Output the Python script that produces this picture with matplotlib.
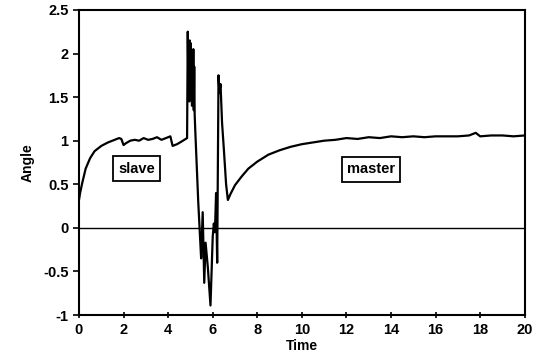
import numpy as np
import matplotlib
matplotlib.use("Agg")
import matplotlib.pyplot as plt

# angle trace
time = [0.0, 0.05, 0.15, 0.3, 0.5, 0.7, 1.0, 1.3, 1.6, 1.8, 1.9, 2.0, 2.1, 2.3, 2.5,
        2.7, 2.9, 3.1, 3.3, 3.5, 3.7, 3.9, 4.1, 4.2, 4.4, 4.6, 4.85,
        4.88, 4.91, 4.93, 4.95, 4.97, 4.99, 5.01, 5.03, 5.05, 5.07, 5.09, 5.11,
        5.13, 5.15, 5.17, 5.19, 5.22,
        5.35, 5.42, 5.48, 5.55, 5.62, 5.68, 5.78, 5.9, 6.0, 6.05, 6.1, 6.15, 6.2,
        6.26, 6.3, 6.35, 6.42, 6.5, 6.6, 6.68, 6.8, 7.0, 7.3, 7.6, 8.0, 8.5,
        9.0, 9.5, 10.0, 10.5, 11.0, 11.5, 12.0, 12.5, 13.0, 13.5, 14.0, 14.5,
        15.0, 15.5, 16.0, 16.5, 17.0, 17.5, 17.8, 18.0, 18.5, 19.0, 19.5, 20.0]
angle = [0.32, 0.40, 0.52, 0.68, 0.80, 0.88, 0.94, 0.98, 1.01, 1.03, 1.02, 0.95, 0.97, 1.00, 1.01,
         1.00, 1.03, 1.01, 1.02, 1.04, 1.01, 1.03, 1.05, 0.94, 0.96, 0.99, 1.03,
         2.25, 1.60, 2.05, 1.45, 2.15, 1.70, 2.12, 1.55, 2.00, 1.40, 1.95, 1.50,
         2.05, 1.35, 1.85, 1.30, 1.10,
         0.30, -0.05, -0.35, 0.18, -0.63, -0.17, -0.45, -0.89, -0.10, 0.05, -0.05, 0.40, -0.40,
         1.75, 1.55, 1.65, 1.20, 0.90, 0.50, 0.32, 0.39, 0.49, 0.59, 0.68, 0.76, 0.84,
         0.89, 0.93, 0.96, 0.98, 1.00, 1.01, 1.03, 1.02, 1.04, 1.03, 1.05, 1.04,
         1.05, 1.04, 1.05, 1.05, 1.05, 1.06, 1.09, 1.05, 1.06, 1.06, 1.05, 1.06]

xticks = [0, 2, 4, 6, 8, 10, 12, 14, 16, 18, 20]
yticks = [-1, -0.5, 0, 0.5, 1, 1.5, 2, 2.5]
ylabels = ["-1", "-0.5", "0", "0.5", "1", "1.5", "2", "2.5"]

plt.rcParams['font.family'] = ['Liberation Sans', 'DejaVu Sans']

fig = plt.figure(figsize=(5.41, 3.54), dpi=100)
ax = fig.add_axes([0.146, 0.11, 0.824, 0.862])

ax.plot(time, angle, color='black', lw=1.6)
ax.axhline(0, color='black', lw=1.0)

ax.set_xlim(0, 20)
ax.set_ylim(-1, 2.5)
ax.set_xticks(xticks)
ax.set_yticks(yticks)
ax.set_yticklabels(ylabels)
ax.tick_params(axis='both', labelsize=10.5, width=1.2, length=4)
ax.tick_params(axis='x', direction='inout')
for lab in ax.get_xticklabels() + ax.get_yticklabels():
    lab.set_fontweight('bold')
for s in ax.spines.values():
    s.set_linewidth(1.5)

ax.set_xlabel("Time", fontsize=10, fontweight='bold', labelpad=2)
ax.set_ylabel("Angle", fontsize=10, fontweight='bold', labelpad=6)

box = dict(boxstyle='square,pad=0.35', fc='white', ec='black', lw=1.3)
ax.text(2.6, 0.68, "slave", fontsize=10.5, fontweight='bold', ha='center', va='center', bbox=box)
ax.text(13.1, 0.67, "master", fontsize=10.5, fontweight='bold', ha='center', va='center', bbox=box)

fig.savefig("out.png", dpi=100)
